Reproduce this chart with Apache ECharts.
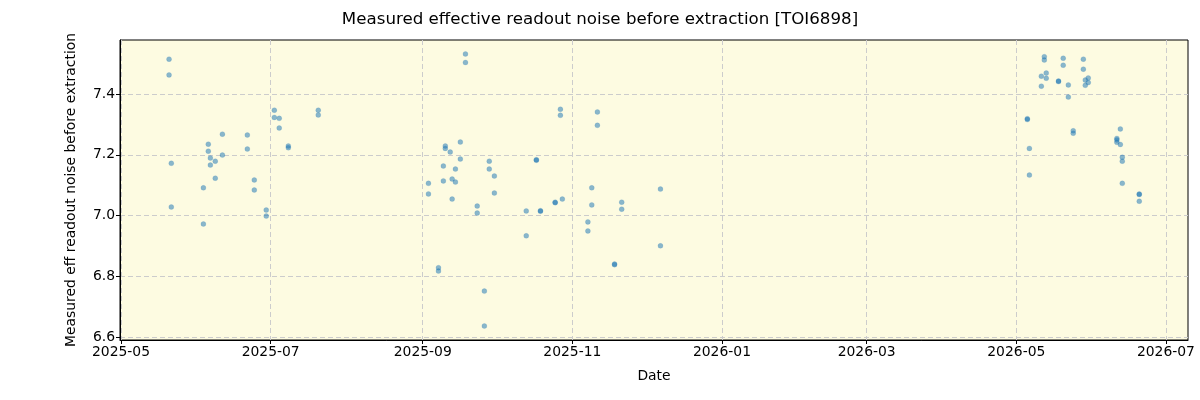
<!DOCTYPE html>
<html>
<head>
<meta charset="utf-8">
<script src="https://cdn.jsdelivr.net/npm/echarts@6/dist/echarts.min.js"></script>
<style>
  html, body { margin: 0; padding: 0; background: #fff; }
  #chart { width: 1200px; height: 400px; }
</style>
</head>
<body>
<div id="chart"></div>
<script>
var obsDates = [
  '2025-05-20 14:00', '2025-05-20 14:00', '2025-05-21 12:00', '2025-05-21 12:00',
  '2025-06-03 14:00', '2025-06-03 14:00', '2025-06-05 14:00', '2025-06-05 14:00',
  '2025-06-06 10:00', '2025-06-06 10:00', '2025-06-08 10:00', '2025-06-08 10:00',
  '2025-06-11 08:00', '2025-06-11 08:00', '2025-06-21 12:00', '2025-06-21 12:00',
  '2025-06-24 08:00', '2025-06-24 08:00', '2025-06-29 05:00', '2025-06-29 05:00',
  '2025-07-02 12:00', '2025-07-02 12:00', '2025-07-04 12:00', '2025-07-04 12:00',
  '2025-07-08 05:00', '2025-07-08 05:00', '2025-07-20 10:00', '2025-07-20 10:00',
  '2025-09-03 08:00', '2025-09-03 08:00', '2025-09-07 10:00', '2025-09-07 10:00',
  '2025-09-09 10:00', '2025-09-09 10:00', '2025-09-10 05:00', '2025-09-10 05:00',
  '2025-09-12 05:00', '2025-09-13 00:00', '2025-09-13 00:00',
  '2025-09-14 08:00', '2025-09-14 08:00', '2025-09-16 08:00', '2025-09-16 08:00',
  '2025-09-18 10:00', '2025-09-18 10:00', '2025-09-23 05:00', '2025-09-23 05:00',
  '2025-09-26 03:00', '2025-09-26 03:00', '2025-09-28 03:00', '2025-09-28 03:00',
  '2025-09-30 05:00', '2025-09-30 05:00',
  '2025-10-13 05:00', '2025-10-13 05:00', '2025-10-17 08:00', '2025-10-17 08:00',
  '2025-10-19 00:00', '2025-10-19 00:00', '2025-10-25 00:00', '2025-10-25 00:00',
  '2025-10-27 03:00', '2025-10-27 03:00', '2025-10-27 22:00',
  '2025-11-07 08:00', '2025-11-07 08:00', '2025-11-08 22:00', '2025-11-08 22:00',
  '2025-11-11 05:00', '2025-11-11 05:00', '2025-11-18 05:00', '2025-11-18 05:00',
  '2025-11-21 03:00', '2025-11-21 03:00', '2025-12-06 22:00', '2025-12-06 22:00',
  '2026-05-05 12:00', '2026-05-05 12:00', '2026-05-06 08:00', '2026-05-06 08:00',
  '2026-05-11 05:00', '2026-05-11 05:00', '2026-05-12 10:00', '2026-05-12 10:00',
  '2026-05-13 05:00', '2026-05-13 05:00', '2026-05-18 05:00', '2026-05-18 05:00',
  '2026-05-20 03:00', '2026-05-20 03:00', '2026-05-22 05:00', '2026-05-22 05:00',
  '2026-05-24 05:00', '2026-05-24 05:00', '2026-05-28 08:00', '2026-05-28 08:00',
  '2026-05-29 03:00', '2026-05-29 03:00', '2026-05-30 08:00', '2026-05-30 08:00',
  '2026-06-11 00:00', '2026-06-11 00:00', '2026-06-11 00:00', '2026-06-12 10:00', '2026-06-12 10:00',
  '2026-06-13 05:00', '2026-06-13 05:00', '2026-06-13 05:00',
  '2026-06-20 03:00', '2026-06-20 03:00', '2026-06-20 03:00'
];
var noiseValues = [
  7.515, 7.463, 7.172, 7.028,
  7.091, 6.972, 7.235, 7.212,
  7.189, 7.166, 7.179, 7.123,
  7.268, 7.199, 7.265, 7.219,
  7.117, 7.084, 7.018, 6.998,
  7.347, 7.323, 7.320, 7.288,
  7.229, 7.223, 7.347, 7.331,
  7.106, 7.071, 6.828, 6.817,
  7.163, 7.114, 7.229, 7.221,
  7.209, 7.120, 7.054,
  7.153, 7.110, 7.242, 7.186,
  7.532, 7.504, 7.031, 7.008,
  6.751, 6.636, 7.179, 7.153,
  7.130, 7.074,
  7.015, 6.933, 7.184, 7.182,
  7.016, 7.014, 7.044, 7.042,
  7.350, 7.330, 7.054,
  6.979, 6.949, 7.091, 7.035,
  7.341, 7.297, 6.840, 6.838,
  7.044, 7.021, 7.087, 6.900,
  7.319, 7.316, 7.221, 7.133,
  7.459, 7.426, 7.523, 7.512,
  7.469, 7.452, 7.443, 7.441,
  7.518, 7.495, 7.430, 7.390,
  7.279, 7.271, 7.515, 7.482,
  7.446, 7.429, 7.453, 7.438,
  7.254, 7.249, 7.241, 7.285, 7.234,
  7.192, 7.179, 7.106,
  7.071, 7.069, 7.047
];
var xTicks = ['2025-05-01', '2025-07-01', '2025-09-01', '2025-11-01',
              '2026-01-01', '2026-03-01', '2026-05-01', '2026-07-01'];
var yTicks = [6.6, 6.8, 7.0, 7.2, 7.4];

var chart = echarts.init(document.getElementById('chart'));

function toTime(d) { return +echarts.time.parse(d); }

var points = [];
for (var i = 0; i < obsDates.length; i++) {
  points.push([toTime(obsDates[i]), noiseValues[i]]);
}
var xTickTimes = xTicks.map(toTime);

var font = 'DejaVu Sans';
var option = {
  animation: false,
  title: {
    text: 'Measured effective readout noise before extraction [TOI6898]',
    left: 'center',
    top: 6,
    textStyle: { fontFamily: font, fontSize: 16.67, fontWeight: 'normal', color: '#000' }
  },
  grid: {
    left: 120, right: 12, top: 40, bottom: 60, show: true,
    backgroundColor: '#fdfbe1', borderWidth: 1, borderColor: '#000'
  },
  xAxis: {
    type: 'value',
    min: toTime('2025-04-30 14:00'),
    max: toTime('2026-07-10'),
    name: 'Date',
    nameLocation: 'middle',
    nameGap: 29,
    nameTextStyle: { fontFamily: font, fontSize: 13.9, color: '#000' },
    axisLine: { onZero: false, lineStyle: { color: '#000', width: 1 } },
    axisTick: { customValues: xTickTimes, length: 4, lineStyle: { color: '#000' } },
    axisLabel: {
      customValues: xTickTimes,
      fontFamily: font, fontSize: 13.9, color: '#000', margin: 5,
      formatter: function (v) { return echarts.time.format(v, '{yyyy}-{MM}', false); }
    },
    splitLine: { show: true, lineStyle: { color: '#cccccc', type: [5, 3], width: 1 } }
  },
  yAxis: {
    type: 'value',
    min: 6.59,
    max: 7.578,
    name: 'Measured eff readout noise before extraction',
    nameLocation: 'middle',
    nameGap: 42,
    nameTextStyle: { fontFamily: font, fontSize: 13.9, color: '#000' },
    axisLine: { show: true, onZero: false, lineStyle: { color: '#000', width: 1 } },
    axisTick: { show: true, customValues: yTicks, length: 4, lineStyle: { color: '#000' } },
    axisLabel: {
      customValues: yTicks,
      fontFamily: font, fontSize: 13.9, color: '#000', margin: 5,
      formatter: function (v) { return v.toFixed(1); }
    },
    splitLine: { show: true, lineStyle: { color: '#cccccc', type: [5, 3], width: 1 } }
  },
  series: [{
    type: 'scatter',
    data: points,
    symbolSize: 5,
    itemStyle: { color: 'rgba(31,119,180,0.65)', borderColor: 'rgba(31,119,180,0.35)', borderWidth: 0.5 }
  }]
};
chart.setOption(option);
</script>
</body>
</html>
